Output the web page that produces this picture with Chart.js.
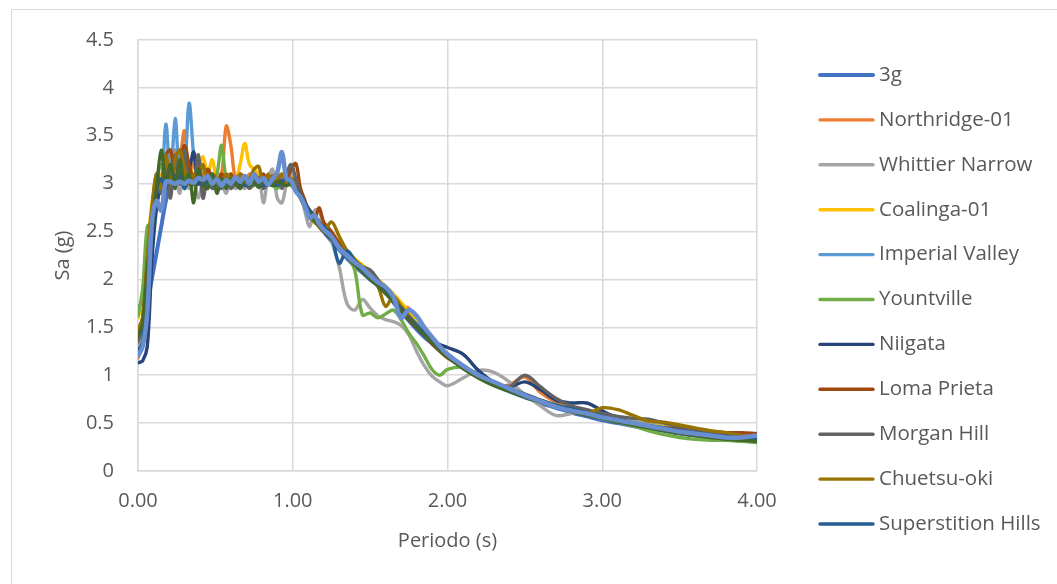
<!DOCTYPE html>
<html lang="es">
<head>
<meta charset="utf-8">
<title>Espectros de respuesta</title>
<script src="https://cdn.jsdelivr.net/npm/chart.js@4.4.1/dist/chart.umd.min.js"></script>
<style>
  html, body { margin: 0; padding: 0; background: #fff; overflow: hidden; }
  #marco { position: absolute; left: 11px; top: 9px; width: 1100px; height: 640px; border: 1.5px solid #d9d9d9; }
  #grafico { position: absolute; left: 0; top: 0; }
</style>
</head>
<body>
<div id="marco"></div>
<canvas id="grafico" width="1057" height="584"></canvas>
<script>
// Periodos (s) comunes a todos los espectros
const periodo = [0,0.03,0.06,0.09,0.12,0.15,0.18,0.21,0.24,0.27,0.30,0.33,0.36,0.39,0.42,0.45,0.48,0.51,0.54,0.57,0.60,0.63,0.66,0.69,0.72,0.75,0.78,0.81,0.84,0.87,0.90,0.93,0.96,0.99,1.02,1.05,1.08,1.11,1.14,1.17,1.20,
  1.25,1.30,1.35,1.40,1.45,1.50,1.55,1.60,1.65,1.70,1.75,1.80,1.85,1.90,1.95,2.00,
  2.1,2.2,2.3,2.4,2.5,2.6,2.7,2.8,2.9,3.0,3.1,3.2,3.3,3.4,3.5,3.6,3.7,3.8,3.9,4.0];

// Sa (g) de cada registro escalado
const sa3g = [1.20,1.47,1.74,2.01,2.28,2.55,2.82,3.00,3.00,3.00,3.00,3.00,3.00,3.00,3.00,3.00,3.00,3.00,3.00,3.00,3.00,3.00,3.00,3.00,3.00,3.00,3.00,3.00,3.00,3.00,3.00,3.00,3.00,3.00,2.94,2.86,2.78,2.70,2.63,2.56,2.50,
  2.40,2.31,2.22,2.14,2.07,2.00,1.94,1.88,1.76,1.66,1.57,1.48,1.40,1.33,1.26,1.20,
  1.09,0.99,0.91,0.83,0.77,0.71,0.66,0.61,0.57,0.53,0.50,0.47,0.44,0.42,0.39,0.37,0.35,0.33,0.32,0.30];
const northridge = [1.18,1.35,2.00,2.70,3.05,2.95,3.20,3.10,3.35,3.30,3.55,3.10,3.20,3.05,3.10,3.15,3.00,3.10,3.10,3.60,3.40,3.05,3.10,3.00,3.10,3.05,3.00,3.08,3.00,3.10,3.05,3.00,3.08,3.10,3.00,2.90,2.80,2.70,2.65,2.62,2.55,
  2.47,2.37,2.28,2.20,2.14,2.07,1.99,1.90,1.80,1.72,1.70,1.58,1.45,1.37,1.29,1.21,
  1.08,0.98,0.90,0.90,0.98,0.82,0.72,0.66,0.62,0.58,0.54,0.51,0.48,0.46,0.44,0.42,0.41,0.40,0.39,0.38];
const whittier = [1.30,1.50,2.20,2.60,3.00,2.90,3.10,2.95,3.05,2.90,3.15,2.95,3.00,2.85,3.00,2.95,3.05,2.95,3.00,2.90,3.05,2.95,3.00,2.95,3.05,3.00,3.10,2.80,3.05,3.15,2.85,2.80,3.00,3.10,3.05,2.92,2.70,2.55,2.72,2.72,2.55,
  2.40,2.13,1.75,1.68,1.79,1.70,1.62,1.58,1.56,1.52,1.42,1.25,1.10,0.99,0.93,0.89,
  0.97,1.05,1.03,0.93,0.80,0.68,0.58,0.60,0.63,0.60,0.56,0.53,0.50,0.48,0.45,0.42,0.40,0.38,0.36,0.35];
const coalinga = [1.60,1.75,2.30,2.80,3.00,3.10,3.00,3.20,3.10,3.25,3.10,3.20,3.05,3.15,3.28,3.10,3.25,3.05,3.10,3.00,3.10,3.05,3.20,3.42,3.20,3.15,3.10,3.05,3.00,3.08,3.02,3.05,2.98,3.05,3.00,2.90,2.80,2.72,2.66,2.60,2.55,
  2.47,2.38,2.30,2.22,2.15,2.08,2.00,1.93,1.85,1.76,1.66,1.56,1.47,1.38,1.30,1.22,
  1.10,1.00,0.92,0.86,0.80,0.74,0.69,0.65,0.61,0.57,0.53,0.50,0.48,0.46,0.44,0.42,0.40,0.39,0.38,0.37];
const imperial = [1.72,1.75,2.10,2.60,2.90,2.95,3.62,3.05,3.68,3.10,3.15,3.84,3.30,3.00,3.05,3.00,3.10,3.00,3.05,2.98,3.05,3.00,3.02,2.98,3.05,3.00,3.02,3.00,3.05,3.02,3.08,3.05,3.00,3.02,2.95,2.88,2.78,2.70,2.64,2.58,2.52,
  2.44,2.34,2.26,2.18,2.10,2.03,1.96,1.88,1.80,1.71,1.62,1.54,1.45,1.37,1.29,1.22,
  1.10,1.00,0.92,0.85,0.79,0.73,0.68,0.63,0.59,0.56,0.52,0.50,0.48,0.45,0.43,0.41,0.39,0.37,0.36,0.35];
const yountville = [1.62,1.90,2.55,2.60,3.00,3.20,3.00,3.10,3.00,3.15,2.95,3.10,3.00,3.05,2.95,3.05,3.00,3.10,3.40,3.05,3.00,3.05,2.98,3.02,3.00,2.98,3.02,3.00,3.00,2.98,2.95,3.00,3.02,2.98,2.92,2.85,2.75,2.68,2.62,2.58,2.52,
  2.45,2.35,2.25,2.10,1.63,1.65,1.60,1.64,1.68,1.58,1.44,1.33,1.20,1.06,1.00,1.06,
  1.08,0.97,0.90,0.85,0.80,0.74,0.68,0.63,0.59,0.55,0.51,0.47,0.42,0.38,0.35,0.33,0.32,0.32,0.31,0.30];
const niigata = [1.13,1.15,1.30,2.20,2.75,3.00,3.15,3.00,3.25,3.00,3.10,3.15,3.33,3.00,3.05,2.98,3.02,3.00,3.05,2.98,3.00,3.05,2.98,3.00,3.05,3.00,3.02,2.98,3.03,3.00,3.05,3.02,3.00,3.05,3.00,2.90,2.80,2.72,2.66,2.60,2.50,
  2.42,2.33,2.25,2.18,2.10,2.02,1.95,1.87,1.78,1.68,1.58,1.50,1.42,1.36,1.32,1.29,
  1.22,1.05,0.93,0.88,0.93,0.85,0.74,0.71,0.71,0.63,0.55,0.50,0.47,0.44,0.42,0.40,0.38,0.37,0.36,0.35];
const lomaPrieta = [1.47,1.60,2.20,2.70,3.10,3.00,3.30,3.35,3.05,3.20,3.40,3.20,3.05,3.10,3.00,3.15,3.05,3.00,3.10,3.05,3.10,3.00,3.10,3.05,3.00,3.10,3.05,3.10,3.00,3.08,3.05,3.10,3.05,3.15,3.21,2.95,2.82,2.65,2.62,2.75,2.60,
  2.50,2.38,2.28,2.20,2.13,2.05,1.97,1.88,1.78,1.68,1.58,1.50,1.42,1.33,1.25,1.18,
  1.08,0.98,0.90,0.85,0.80,0.74,0.68,0.64,0.60,0.56,0.52,0.49,0.47,0.45,0.44,0.43,0.41,0.40,0.40,0.39];
const morganHill = [1.35,1.50,2.10,2.60,3.00,2.90,3.15,2.85,3.30,3.00,3.35,3.00,3.00,3.30,2.85,3.05,2.95,3.00,2.95,3.05,2.95,3.00,2.95,3.02,2.95,3.00,3.05,2.95,3.00,3.05,3.10,2.95,3.10,3.20,3.05,2.88,2.78,2.70,2.65,2.60,2.55,
  2.45,2.35,2.25,2.15,2.13,2.10,2.00,1.90,1.82,1.72,1.62,1.52,1.44,1.36,1.28,1.20,
  1.08,0.98,0.90,0.88,1.00,0.88,0.76,0.68,0.64,0.60,0.57,0.55,0.54,0.50,0.46,0.42,0.39,0.36,0.34,0.32];
const chuetsu = [1.45,1.60,2.20,2.75,3.10,2.95,3.30,3.00,3.25,3.35,3.15,3.00,3.10,3.05,3.20,3.00,3.10,3.05,3.00,3.10,3.05,3.00,3.10,3.00,3.05,3.15,3.18,2.98,3.10,3.00,3.05,3.10,3.00,3.05,2.95,2.85,2.75,2.65,2.60,2.55,2.50,
  2.60,2.45,2.30,2.20,2.12,2.02,1.93,1.72,1.82,1.72,1.62,1.52,1.44,1.35,1.28,1.20,
  1.08,0.98,0.90,0.84,0.78,0.73,0.68,0.62,0.60,0.66,0.64,0.58,0.52,0.51,0.48,0.45,0.42,0.40,0.37,0.35];
const superstition = [1.25,1.35,1.90,2.50,2.95,3.05,2.95,3.20,3.00,3.10,2.95,3.05,3.00,3.05,2.98,3.02,3.00,3.05,3.00,2.98,3.03,3.00,3.02,2.98,3.00,3.05,3.00,2.98,3.02,3.00,2.98,3.02,3.05,3.00,2.95,2.88,2.80,2.70,2.65,2.58,2.55,
  2.45,2.17,2.30,2.20,2.10,2.02,1.95,1.87,1.78,1.70,1.60,1.52,1.44,1.36,1.28,1.20,
  1.10,1.00,0.92,0.86,0.80,0.74,0.69,0.65,0.61,0.57,0.53,0.50,0.47,0.45,0.42,0.40,0.38,0.36,0.35,0.34];
const serie12 = [1.40,1.55,2.10,2.50,2.95,3.35,3.00,3.20,2.95,3.25,3.00,3.10,2.80,3.15,3.00,2.95,3.10,2.90,3.05,2.95,3.05,3.00,2.95,3.05,2.98,3.02,2.96,3.04,3.00,2.98,3.02,3.00,2.98,3.00,2.94,2.85,2.75,2.68,2.62,2.56,2.50,
  2.43,2.33,2.24,2.16,2.08,2.00,1.93,1.85,1.77,1.68,1.59,1.50,1.42,1.34,1.26,1.19,
  1.07,0.97,0.89,0.83,0.77,0.72,0.67,0.62,0.58,0.55,0.51,0.48,0.45,0.42,0.39,0.37,0.35,0.33,0.32,0.31];
const serie13 = [1.20,1.30,1.65,2.60,2.82,2.72,3.02,3.02,3.00,3.02,3.00,3.03,3.01,3.06,3.04,3.08,3.00,3.05,2.98,3.04,3.00,3.07,3.02,3.08,3.00,3.10,3.02,3.06,2.99,3.05,3.12,3.33,3.05,3.03,2.92,2.86,2.76,2.64,2.67,2.58,2.52,
  2.45,2.33,2.25,2.18,2.12,2.04,1.97,1.92,1.82,1.60,1.68,1.62,1.50,1.40,1.30,1.22,
  1.10,1.00,0.93,0.86,0.79,0.73,0.67,0.63,0.60,0.56,0.53,0.50,0.47,0.44,0.41,0.39,0.37,0.35,0.35,0.37];

// nombre, valores, color, grosor, visible en la leyenda
const series = [
  ['3g', sa3g, '#4472C4', 4, true],
  ['Northridge-01', northridge, '#ED7D31', 3.4, true],
  ['Whittier Narrow', whittier, '#A5A5A5', 3.4, true],
  ['Coalinga-01', coalinga, '#FFC000', 3.4, true],
  ['Imperial Valley', imperial, '#5B9BD5', 3.4, true],
  ['Yountville', yountville, '#70AD47', 3.4, true],
  ['Niigata', niigata, '#264478', 3.4, true],
  ['Loma Prieta', lomaPrieta, '#9E480E', 3.4, true],
  ['Morgan Hill', morganHill, '#636363', 3.4, true],
  ['Chuetsu-oki', chuetsu, '#997300', 3.4, true],
  ['Superstition Hills', superstition, '#255E91', 3.4, true],
  ['Serie12', serie12, '#43682B', 3.4, false],
  ['Serie13', serie13, '#698ED0', 4.5, false]
];

const gris = '#d9d9d9';
const texto = '#595959';
Chart.defaults.font.family = '"Open Sans", sans-serif';
Chart.defaults.font.size = 20;
Chart.defaults.color = texto;

// leyenda a la derecha, una linea por registro
const leyenda = {
  id: 'leyenda',
  afterDraw(chart) {
    const { ctx, chartArea } = chart;
    const x0 = chartArea.right + 63;
    ctx.save();
    ctx.font = '20.5px "Open Sans", sans-serif';
    ctx.textBaseline = 'middle';
    ctx.lineCap = 'round';
    series.filter(s => s[4]).forEach((s, i) => {
      const y = 75 + i * 44.9;
      ctx.strokeStyle = s[2];
      ctx.lineWidth = s[3];
      ctx.beginPath(); ctx.moveTo(x0, y); ctx.lineTo(x0 + 53, y); ctx.stroke();
      ctx.fillStyle = texto;
      ctx.fillText(s[0], x0 + 59, y);
    });
    ctx.restore();
  }
};

new Chart(document.getElementById('grafico'), {
  type: 'line',
  data: {
    datasets: series.map((s, i) => ({
      label: s[0],
      data: periodo.map((t, k) => ({ x: t, y: s[1][k] })),
      borderColor: s[2],
      backgroundColor: s[2],
      borderWidth: s[3],
      order: series.length - i,   // el ultimo registro queda encima
      pointRadius: 0,
      tension: 0.35,
      borderJoinStyle: 'round',
      borderCapStyle: 'round',
      fill: false
    }))
  },
  options: {
    responsive: false,
    animation: false,
    layout: { padding: { left: 0, top: 40, right: 300, bottom: 0 } },
    plugins: { legend: { display: false }, tooltip: { enabled: false } },
    scales: {
      x: {
        type: 'linear', min: 0, max: 4,
        ticks: { stepSize: 1, padding: 18, maxRotation: 0, callback: v => v.toFixed(2) },
        grid: { color: gris, lineWidth: 1.5, drawTicks: false },
        border: { color: gris, width: 1.5 },
        title: { display: true, text: 'Periodo (s)', padding: { top: 0, bottom: 31 } },
        afterFit: s => { s.height = 113; }
      },
      y: {
        min: 0, max: 4.5,
        ticks: { stepSize: 0.5, padding: 24, callback: v => String(v) },
        grid: { color: gris, lineWidth: 1.5, drawTicks: false },
        border: { color: gris, width: 1.5 },
        title: { display: true, text: 'Sa (g)', padding: { top: 51, bottom: 0 } },
        afterFit: s => { s.width = 138; }
      }
    }
  },
  plugins: [leyenda]
});
</script>
</body>
</html>
